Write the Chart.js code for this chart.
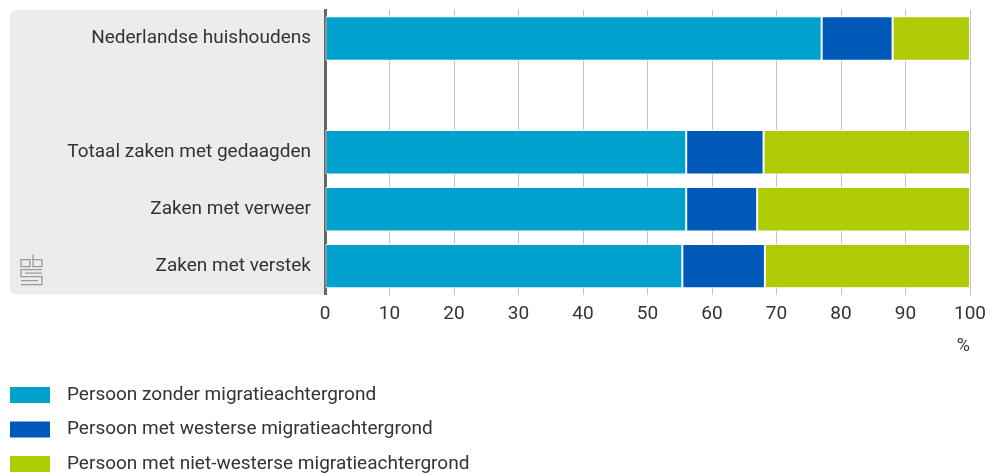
<!DOCTYPE html>
<html>
<head>
<meta charset="utf-8">
<script src="https://cdn.jsdelivr.net/npm/chart.js@4/dist/chart.umd.min.js"></script>
<style>
  html, body { margin: 0; padding: 0; background: #fff; }
  #wrap { width: 987px; height: 474px; position: relative; }
</style>
</head>
<body>
<div id="wrap"><canvas id="chart"></canvas></div>
<script>
// categorieen (lege rij als scheiding)
const categories = ['Nederlandse huishoudens', '', 'Totaal zaken met gedaagden', 'Zaken met verweer', 'Zaken met verstek'];
const zonderMigratie = [77, null, 56, 56, 55.4];
const westers = [11, null, 12, 11, 12.8];
const nietWesters = [12, null, 32, 33, 31.8];
const seriesLabels = ['Persoon zonder migratieachtergrond', 'Persoon met westerse migratieachtergrond', 'Persoon met niet-westerse migratieachtergrond'];
const seriesColors = ['#00a1cd', '#0058b8', '#afcb05'];
const xTicks = [0, 10, 20, 30, 40, 50, 60, 70, 80, 90, 100];

const FONT = 'Roboto, "Noto Sans", sans-serif';
const FS = 19;

// grijs vlak achter de labels + cbs logo
const panelPlugin = {
    id: 'panel',
    beforeDraw(chart) {
        const ctx = chart.ctx;
        const a = chart.chartArea;
        ctx.save();
        ctx.fillStyle = '#ececec';
        ctx.beginPath();
        ctx.roundRect(10, a.top, a.left - 10, a.bottom - a.top, [6, 0, 0, 6]);
        ctx.fill();
        // logo
        ctx.strokeStyle = '#9a9a9a';
        ctx.lineWidth = 1.3;
        const lx = 21, ly = a.bottom - 40;
        ctx.beginPath();
        ctx.rect(lx, ly + 5, 9, 7);
        ctx.moveTo(lx + 12, ly); ctx.lineTo(lx + 12, ly + 12); ctx.lineTo(lx + 21, ly + 12); ctx.lineTo(lx + 21, ly + 5); ctx.lineTo(lx + 12, ly + 5);
        ctx.moveTo(lx + 21, ly + 15); ctx.lineTo(lx, ly + 15); ctx.lineTo(lx, ly + 22); ctx.lineTo(lx + 21, ly + 22);
        ctx.lineTo(lx + 21, ly + 30); ctx.lineTo(lx, ly + 30);
        ctx.moveTo(lx + 4, ly + 18.5); ctx.lineTo(lx + 21, ly + 18.5);
        ctx.moveTo(lx, ly + 26); ctx.lineTo(lx + 17, ly + 26);
        ctx.stroke();
        ctx.restore();
    }
};

// eigen legenda onder de grafiek
const legendPlugin = {
    id: 'ownLegend',
    afterDraw(chart) {
        const ctx = chart.ctx;
        ctx.save();
        ctx.font = FS + 'px ' + FONT;
        ctx.textBaseline = 'middle';
        chart.data.datasets.forEach((ds, i) => {
            const y = 395 + i * 34.5;
            ctx.fillStyle = ds.backgroundColor;
            ctx.fillRect(10, y - 8, 40, 16);
            ctx.fillStyle = '#333';
            ctx.fillText(ds.label, 67, y);
        });
        ctx.restore();
    }
};

const ctx = document.getElementById('chart').getContext('2d');
new Chart(ctx, {
    type: 'bar',
    data: {
        labels: categories,
        datasets: [
            { label: seriesLabels[0], data: zonderMigratie, backgroundColor: seriesColors[0] },
            { label: seriesLabels[1], data: westers, backgroundColor: seriesColors[1] },
            { label: seriesLabels[2], data: nietWesters, backgroundColor: seriesColors[2] }
        ].map(ds => Object.assign(ds, {
            borderColor: '#ffffff',
            borderWidth: 1,
            borderSkipped: false,
            categoryPercentage: 1,
            barPercentage: 0.78
        }))
    },
    options: {
        indexAxis: 'y',
        responsive: true,
        maintainAspectRatio: false,
        animation: false,
        layout: { padding: { top: 10, right: 17, bottom: 117, left: 0 } },
        scales: {
            x: {
                stacked: true,
                min: 0,
                max: 100,
                afterBuildTicks: scale => { scale.ticks = xTicks.map(v => ({ value: v })); },
                afterFit: scale => { scale.paddingRight = 0; scale.paddingLeft = 0; },
                grid: { color: '#c4c4c4', lineWidth: 1, drawTicks: false },
                border: { display: false },
                ticks: { color: '#333', font: { family: FONT, size: FS }, padding: 8 },
                title: { display: true, text: '%', align: 'end', color: '#333', font: { family: FONT, size: FS - 1 }, padding: { top: 2, bottom: 0 } }
            },
            y: {
                stacked: true,
                grid: { display: false },
                border: { color: '#666', width: 3 },
                afterFit: scale => { scale.width = 325; scale.paddingTop = 0; scale.paddingBottom = 0; },
                ticks: { color: '#333', font: { family: FONT, size: FS }, padding: 6 }
            }
        },
        plugins: {
            legend: { display: false },
            tooltip: { enabled: false }
        }
    },
    plugins: [panelPlugin, legendPlugin]
});
</script>
</body>
</html>
